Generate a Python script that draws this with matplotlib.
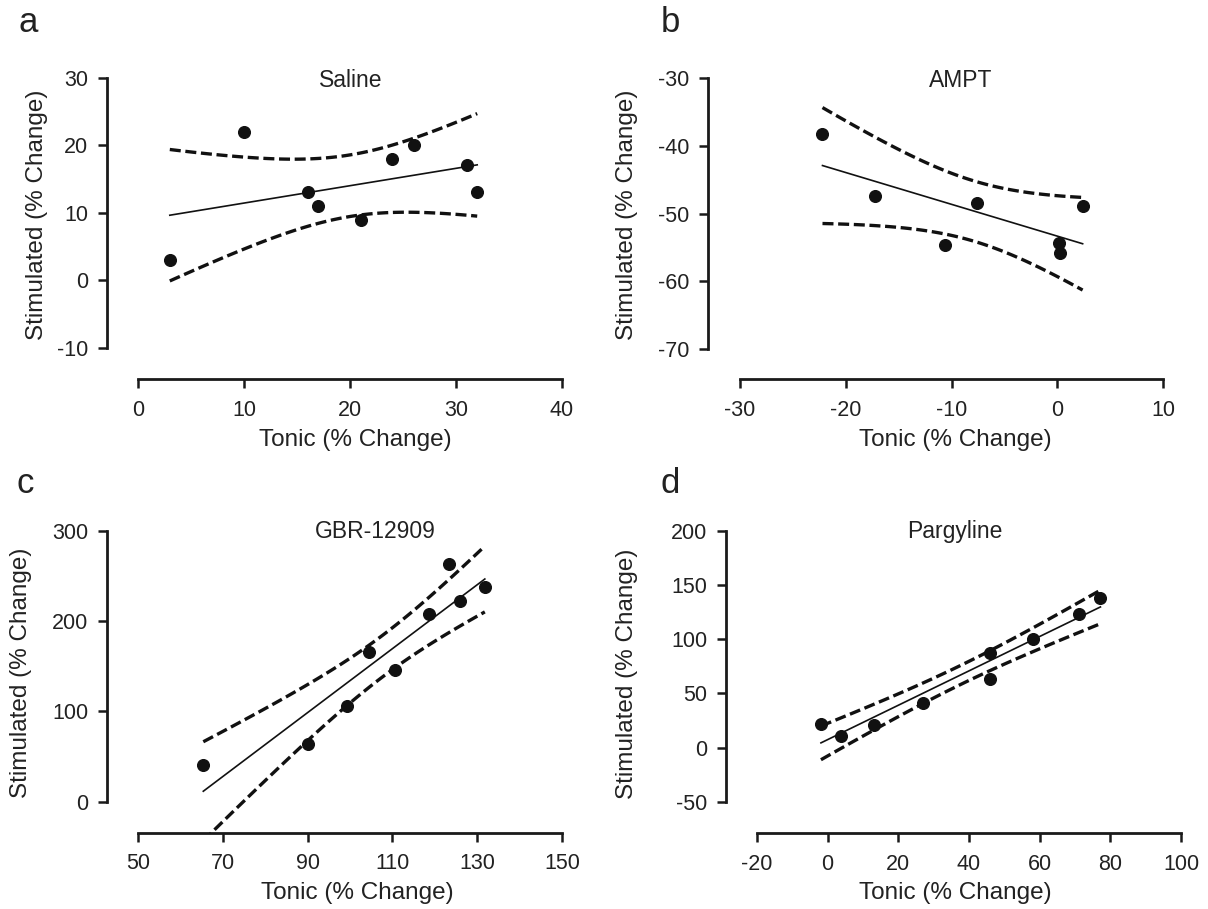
import numpy as np
import matplotlib
matplotlib.use('Agg')
import matplotlib.pyplot as plt

plt.rcParams['font.family'] = ['Liberation Sans', 'DejaVu Sans']
plt.rcParams['axes.unicode_minus'] = False

# values (Tonic vs Stimulated, % change)
saline_x = np.array([3, 10, 16, 17, 21, 24, 26, 31, 32])
saline_y = np.array([3, 22, 13, 11, 9, 18, 20, 17, 13])

ampt_x = np.array([-22.2, -17.2, -10.6, -7.6, 0.2, 0.3, 2.4])
ampt_y = np.array([-38.2, -47.4, -54.6, -48.4, -54.4, -55.8, -48.9])

gbr_x = np.array([65.4, 90.2, 99.4, 104.4, 110.7, 118.6, 123.4, 125.9, 131.8])
gbr_y = np.array([41, 64, 106, 165.7, 146.3, 208, 263, 222.7, 238])

parg_x = np.array([-1.9, 3.9, 13, 27, 46, 46, 58, 71, 77.2])
parg_y = np.array([22, 11, 21, 41, 87, 63, 100, 123, 138])

# two-sided 95% t values by degrees of freedom
t95 = {5: 2.571, 7: 2.365}

W, H = 1208, 909
ink = '#222222'


def fit_band(x, y):
    # linear regression with 95% confidence band of the fitted line
    n = len(x)
    b, a = np.polyfit(x, y, 1)
    xs = np.linspace(x.min(), x.max(), 120)
    fit = a + b * xs
    s = np.sqrt(np.sum((y - (a + b * x)) ** 2) / (n - 2))
    se = s * np.sqrt(1 / n + (xs - x.mean()) ** 2 / np.sum((x - x.mean()) ** 2))
    return xs, fit, fit - t95[n - 2] * se, fit + t95[n - 2] * se


def place(ax, yaxis_px, xaxis_px, xt, xt_px, yt, yt_px):
    # axes box from pixel positions of the (offset) prism-style axes
    ax.set_position([yaxis_px / W, 1 - xaxis_px / H,
                     (xt_px[1] + 1 - yaxis_px) / W, (xaxis_px - yt_px[1] + 1) / H])
    kx = (xt[1] - xt[0]) / (xt_px[1] - xt_px[0])
    ky = (yt[1] - yt[0]) / (yt_px[0] - yt_px[1])
    ax.set_xlim(xt[0] - (xt_px[0] - yaxis_px) * kx, xt[1] + kx)
    ax.set_ylim(yt[0] - (xaxis_px - yt_px[0]) * ky, yt[1] + ky)
    ax.spines['left'].set_bounds(yt[0], yt[1])
    ax.spines['bottom'].set_bounds(xt[0], xt[1])


panels = [
    # letter, title, x, y, xticks, yticks, y-axis px, x-axis px, xtick px, ytick px
    ('a', 'Saline', saline_x, saline_y, np.arange(0, 41, 10), np.arange(-10, 31, 10),
     107, 379, (138, 562), (348, 77.5)),
    ('b', 'AMPT', ampt_x, ampt_y, np.arange(-30, 11, 10), np.arange(-70, -29, 10),
     708, 379, (740, 1163), (349, 78)),
    ('c', 'GBR-12909', gbr_x, gbr_y, np.arange(50, 151, 20), np.arange(0, 301, 100),
     107, 832.5, (138, 562), (801.7, 531)),
    ('d', 'Pargyline', parg_x, parg_y, np.arange(-20, 101, 20), np.arange(-50, 201, 50),
     726, 833, (757, 1181), (801.7, 531)),
]

title_pos = {'a': (351, 87), 'b': (961, 87), 'c': (375, 538), 'd': (955, 538)}
xlabel_pos = {'a': (355, 440), 'b': (955, 440), 'c': (357, 893), 'd': (955, 893)}
ylabel_pos = {'a': (37, 215), 'b': (627, 215), 'c': (21, 673), 'd': (627, 674)}
letter_pos = {'a': (19, 32), 'b': (661, 32), 'c': (17, 493), 'd': (661, 493)}

fig = plt.figure(figsize=(W / 100, H / 100), dpi=100)

for letter, title, x, y, xt, yt, ya, xa, xt_px, yt_px in panels:
    ax = fig.add_axes([0, 0, 1, 1])
    place(ax, ya, xa, (xt[0], xt[-1]), xt_px, (yt[0], yt[-1]), yt_px)

    xs, fit, lo, hi = fit_band(x, y)
    ax.plot(xs, fit, color='#111111', lw=1.2)
    ax.plot(xs, lo, color='#111111', lw=2.4, dashes=(3.3, 1.4), dash_capstyle='butt')
    ax.plot(xs, hi, color='#111111', lw=2.4, dashes=(3.3, 1.4), dash_capstyle='butt')
    ax.plot(x, y, 'o', color='#111111', ms=8.4, mec='#111111')

    ax.set_xticks(xt)
    ax.set_yticks(yt)
    ax.set_xticklabels([str(v) for v in xt])
    ax.set_yticklabels([str(v) for v in yt])
    for side in ('top', 'right'):
        ax.spines[side].set_visible(False)
    for side in ('left', 'bottom'):
        ax.spines[side].set_linewidth(2.0)
        ax.spines[side].set_color('#1a1a1a')
    ax.tick_params(direction='out', length=6.5, width=1.8, color='#1a1a1a',
                   labelsize=15.5, labelcolor=ink)
    ax.tick_params(axis='x', pad=8.5)
    ax.tick_params(axis='y', pad=7)
    ax.patch.set_visible(False)

    tx, ty = title_pos[letter]
    fig.text(tx / W, 1 - ty / H, title, ha='center', va='baseline', fontsize=16.5, color=ink)
    lx, ly = xlabel_pos[letter]
    fig.text(lx / W, 1 - ly / H, 'Tonic (% Change)', ha='center', va='center',
             fontsize=17.5, color=ink)
    lx, ly = ylabel_pos[letter]
    fig.text(lx / W, 1 - ly / H, 'Stimulated (% Change)', ha='center', va='center',
             rotation=90, fontsize=17.5, color=ink)
    lx, ly = letter_pos[letter]
    fig.text(lx / W, 1 - ly / H, letter, ha='left', va='baseline', fontsize=25, color=ink)

plt.savefig('out.png', dpi=100, facecolor='white')
